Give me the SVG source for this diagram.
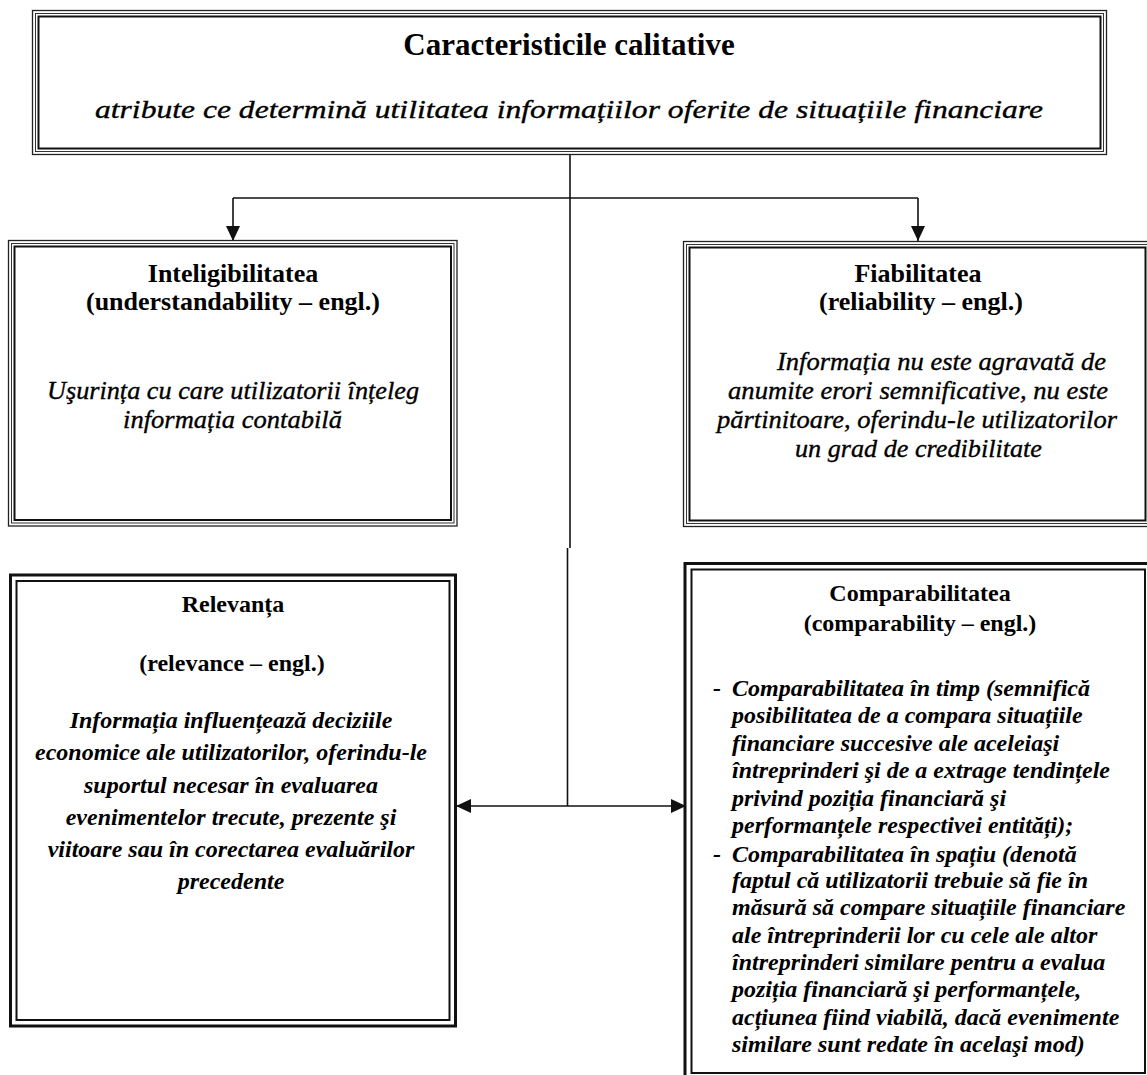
<svg xmlns="http://www.w3.org/2000/svg" width="1147" height="1075" viewBox="0 0 1147 1075">
  <style>
    text { font-family: "Liberation Serif", "Times New Roman", serif; fill: #000; }
    .title { font-weight: bold; font-size: 31px; text-anchor: middle; }
    .lbl { font-weight: bold; font-size: 26px; text-anchor: middle; }
    .lbl2 { font-weight: bold; font-size: 24px; text-anchor: middle; }
    .it { font-style: italic; font-size: 26px; stroke: #000; stroke-width: 0.35; }
    .bi { font-weight: bold; font-style: italic; font-size: 24px; }
    .mid { text-anchor: middle; }
    .t1 { fill: none; stroke: #222; stroke-width: 1.3; }
    .t2 { fill: none; stroke: #333; stroke-width: 1; }
    .t3 { fill: none; stroke: #111; stroke-width: 2; }
    .d1 { fill: none; stroke: #111; stroke-width: 3; }
    .d2 { fill: none; stroke: #111; stroke-width: 2; }
    .wire { fill: none; stroke: #111; stroke-width: 1.6; }
  </style>
  <defs>
    <marker id="ah" markerUnits="userSpaceOnUse" markerWidth="16" markerHeight="14" refX="15" refY="7" orient="auto-start-reverse">
      <path d="M0,0 L15,7 L0,14 z" fill="#111"/>
    </marker>
  </defs>

  <!-- connectors -->
  <g id="connectors">
    <path class="wire" d="M570,155 V548"/>
    <path class="wire" d="M567.5,548 V806"/>
    <path class="wire" d="M233,198 H918"/>
    <path class="wire" d="M233,198 V241" marker-end="url(#ah)"/>
    <path class="wire" d="M918,198 V241" marker-end="url(#ah)"/>
    <path class="wire" d="M456,806 H686" marker-start="url(#ah)" marker-end="url(#ah)"/>
  </g>

  <!-- header -->
  <g id="caracteristici">
    <rect class="t1" x="32.5" y="10.5" width="1074" height="144"/>
    <rect class="t2" x="35.5" y="13.5" width="1068" height="138"/>
    <rect class="t3" x="38.5" y="16.5" width="1062" height="132"/>
    <text class="title" x="569" y="55">Caracteristicile calitative</text>
    <text class="it" x="95" y="118" font-size="27" textLength="948" lengthAdjust="spacingAndGlyphs">atribute ce determină utilitatea informațiilor oferite de situațiile financiare</text>
  </g>

  <!-- understandability -->
  <g id="inteligibilitatea">
    <rect class="t1" x="8.5" y="240.5" width="448.5" height="285.5"/>
    <rect class="t2" x="11.5" y="243.5" width="442.5" height="279.5"/>
    <rect class="t3" x="14.5" y="246.5" width="436.5" height="273.5"/>
    <text class="lbl" x="233" y="282">Inteligibilitatea</text>
    <text class="lbl" x="233" y="310">(understandability – engl.)</text>
    <text class="it" x="47" y="399" textLength="372" lengthAdjust="spacingAndGlyphs">Uşurința cu care utilizatorii înțeleg</text>
    <text class="it" x="123" y="428" textLength="219" lengthAdjust="spacingAndGlyphs">informația contabilă</text>
  </g>

  <!-- reliability -->
  <g id="fiabilitatea">
    <rect class="t1" x="683.5" y="241.5" width="470" height="285"/>
    <rect class="t2" x="686.5" y="244.5" width="462" height="279"/>
    <rect class="t3" x="689.5" y="247.5" width="456" height="273"/>
    <text class="lbl" x="918" y="282">Fiabilitatea</text>
    <text class="lbl" x="921" y="310">(reliability – engl.)</text>
    <text class="it" x="777" y="370" textLength="329" lengthAdjust="spacingAndGlyphs">Informația nu este agravată de</text>
    <text class="it" x="728" y="399" textLength="380" lengthAdjust="spacingAndGlyphs">anumite erori semnificative, nu este</text>
    <text class="it" x="717" y="428" textLength="400" lengthAdjust="spacingAndGlyphs">părtinitoare, oferindu-le utilizatorilor</text>
    <text class="it" x="795" y="457" textLength="247" lengthAdjust="spacingAndGlyphs">un grad de credibilitate</text>
  </g>

  <!-- relevance -->
  <g id="relevanta">
    <rect class="d1" x="10.5" y="575" width="445" height="451"/>
    <rect class="d2" x="16.5" y="581" width="433" height="439"/>
    <text class="lbl2" x="233" y="612">Relevanța</text>
    <text class="lbl2" x="232" y="671">(relevance – engl.)</text>
    <text class="bi mid" x="231" y="728">Informația influențează deciziile</text>
    <text class="bi mid" x="231" y="760">economice ale utilizatorilor, oferindu-le</text>
    <text class="bi mid" x="231" y="793">suportul necesar în evaluarea</text>
    <text class="bi mid" x="231" y="825">evenimentelor trecute, prezente şi</text>
    <text class="bi mid" x="231" y="857">viitoare sau în corectarea evaluărilor</text>
    <text class="bi mid" x="231" y="889">precedente</text>
  </g>

  <!-- comparability -->
  <g id="comparabilitatea">
    <rect class="d1" x="685" y="563.5" width="470" height="520"/>
    <rect class="d2" x="691.5" y="569.5" width="453.5" height="503.5"/>
    <text class="lbl2" x="920" y="601">Comparabilitatea</text>
    <text class="lbl2" x="920" y="631">(comparability – engl.)</text>
    <text class="bi" x="713" y="696">-</text>
    <text class="bi" x="713" y="862">-</text>
    <text class="bi" x="732" y="696">Comparabilitatea în timp (semnifică</text>
    <text class="bi" x="732" y="723.4">posibilitatea de a compara situațiile</text>
    <text class="bi" x="732" y="750.8">financiare succesive ale aceleiaşi</text>
    <text class="bi" x="732" y="778.2">întreprinderi şi de a extrage tendințele</text>
    <text class="bi" x="732" y="805.6">privind poziția financiară şi</text>
    <text class="bi" x="732" y="833">performanțele respectivei entități);</text>
    <text class="bi" x="732" y="862">Comparabilitatea în spațiu (denotă</text>
    <text class="bi" x="732" y="887.8">faptul că utilizatorii trebuie să fie în</text>
    <text class="bi" x="732" y="915.2">măsură să compare situațiile financiare</text>
    <text class="bi" x="732" y="942.6">ale întreprinderii lor cu cele ale altor</text>
    <text class="bi" x="732" y="970">întreprinderi similare pentru a evalua</text>
    <text class="bi" x="732" y="997.4">poziția financiară şi performanțele,</text>
    <text class="bi" x="732" y="1024.8">acțiunea fiind viabilă, dacă evenimente</text>
    <text class="bi" x="732" y="1052.2">similare sunt redate în acelaşi mod)</text>
  </g>
</svg>
